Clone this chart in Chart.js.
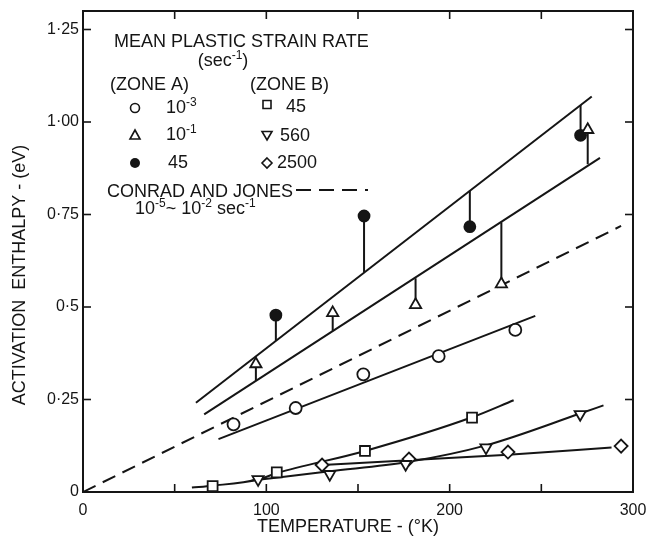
<!DOCTYPE html>
<html>
<head>
<meta charset="utf-8">
<script src="https://cdn.jsdelivr.net/npm/chart.js@4/dist/chart.umd.min.js"></script>
<style>
  html, body { margin: 0; padding: 0; background: #fff; }
  canvas { display: block; }
</style>
</head>
<body>
<canvas id="c" width="646" height="538"></canvas>
<script>
// ---------- axis ticks ----------
const xTickValues = [0, 50, 100, 150, 200, 250, 300];
const xTickLabels = ['0', '', '100', '', '200', '', '300'];
const yTickValues = [0, 0.25, 0.5, 0.75, 1.0, 1.25];
const yTickLabels = ['0', '0·25', '0·5', '0·75', '1·00', '1·25'];

// ---------- Zone A ----------
// 10^-3 sec^-1 (open circles)
const circleT = [82.1, 116, 152.9, 194, 235.8];
const circleE = [0.183, 0.227, 0.318, 0.367, 0.438];
const circleFitT = [73.9, 246.7];
const circleFitE = [0.143, 0.476];

// 10^-1 sec^-1 (open triangles) and where their ties meet the lower band line
const triT = [94.3, 136.2, 181.4, 228.2, 275.3];
const triE = [0.346, 0.484, 0.506, 0.562, 0.979];
const triTieE = [0.300, 0.436, 0.578, 0.729, 0.886];

// 45 sec^-1 (filled circles) and where their ties meet the upper band line
const dotT = [105.2, 153.3, 211, 271.4];
const dotE = [0.478, 0.746, 0.717, 0.964];
const dotTieE = [0.408, 0.593, 0.814, 1.046];

// band lines
const upperBandT = [61.6, 277.5];
const upperBandE = [0.241, 1.069];
const lowerBandT = [66.1, 282];
const lowerBandE = [0.21, 0.903];

// Conrad and Jones (dashed)
const conradT = [0, 293.5];
const conradE = [0, 0.719];

// ---------- Zone B ----------
// 45 sec^-1 (squares)
const sqT = [70.7, 105.7, 153.8, 212.2];
const sqE = [0.016, 0.053, 0.111, 0.201];
const sqFitT = [59.4, 70.7, 95.5, 105.7, 153.8, 212.2, 234.9];
const sqFitE = [0.012, 0.017, 0.034, 0.051, 0.111, 0.202, 0.248];

// 560 sec^-1 (inverted triangles)
const tdT = [95.5, 134.6, 176, 219.8, 271.2];
const tdE = [0.034, 0.048, 0.075, 0.120, 0.210];
const tdFitT = [92, 134.6, 177, 219.8, 271.2, 283.9];
const tdFitE = [0.031, 0.056, 0.081, 0.126, 0.212, 0.234];

// 2500 sec^-1 (diamonds)
const dmT = [130.4, 177.8, 231.8, 293.5];
const dmE = [0.073, 0.089, 0.108, 0.124];
const dmFitT = [130.4, 178, 232, 288.3];
const dmFitE = [0.073, 0.086, 0.101, 0.120];

// ---------- helpers ----------
const INK = '#151515';
const FONT = '"Liberation Sans", Arial, sans-serif';
function pts(xs, ys) { return xs.map((x, i) => ({ x: x, y: ys[i] })); }
function ties(xs, y1, y2) {
  const out = [];
  xs.forEach((x, i) => { out.push({ x: x, y: y1[i] }, { x: x, y: y2[i] }, { x: x, y: null }); });
  return out;
}
function lineDs(data, dash) {
  return { type: 'line', data: data, showLine: true, borderColor: INK, borderWidth: 2,
           borderDash: dash || [], pointRadius: 0, fill: false, tension: 0, spanGaps: false, order: 2 };
}
function curveDs(data) {
  const d = lineDs(data); d.tension = 0.35; d.cubicInterpolationMode = 'monotone'; return d;
}
function markDs(data, style, r, filled, rot) {
  return { type: 'line', data: data, showLine: false, pointStyle: style, pointRadius: r,
           pointRotation: rot || 0, pointBorderWidth: 1.8, pointBorderColor: INK,
           pointBackgroundColor: filled ? INK : '#ffffff', order: 0 };
}

// ---------- plugin: frame, inward ticks, titles, legend block ----------
const decor = {
  id: 'decor',
  afterDraw(chart) {
    const ctx = chart.ctx, a = chart.chartArea, sx = chart.scales.x, sy = chart.scales.y;
    ctx.save();
    ctx.strokeStyle = INK; ctx.lineWidth = 2; ctx.setLineDash([]);
    ctx.strokeRect(a.left, a.top, a.right - a.left, a.bottom - a.top);
    ctx.lineWidth = 1.6;
    const L = 8;
    xTickValues.forEach(v => {
      const px = sx.getPixelForValue(v);
      ctx.beginPath(); ctx.moveTo(px, a.bottom); ctx.lineTo(px, a.bottom - L); ctx.stroke();
      ctx.beginPath(); ctx.moveTo(px, a.top); ctx.lineTo(px, a.top + L); ctx.stroke();
    });
    yTickValues.forEach(v => {
      const py = sy.getPixelForValue(v);
      ctx.beginPath(); ctx.moveTo(a.left, py); ctx.lineTo(a.left + L, py); ctx.stroke();
      ctx.beginPath(); ctx.moveTo(a.right, py); ctx.lineTo(a.right - L, py); ctx.stroke();
    });

    ctx.fillStyle = INK;
    // axis titles
    ctx.font = '18px ' + FONT;
    ctx.textAlign = 'center'; ctx.textBaseline = 'alphabetic';
    ctx.fillText('TEMPERATURE - (°K)', 348, 532);
    ctx.save();
    ctx.translate(25, 275); ctx.rotate(-Math.PI / 2);
    ctx.fillText('ACTIVATION  ENTHALPY - (eV)', 0, 0);
    ctx.restore();

    // legend text
    const MAIN = '18px ' + FONT, SUP = '12px ' + FONT;
    function rich(x, y, parts, align) {
      let w = 0;
      parts.forEach(p => { ctx.font = p[1] ? SUP : MAIN; w += ctx.measureText(p[0]).width; });
      let cx = align === 'center' ? x - w / 2 : x;
      ctx.textAlign = 'left';
      parts.forEach(p => {
        ctx.font = p[1] ? SUP : MAIN;
        ctx.fillText(p[0], cx, p[1] ? y - 7 : y);
        cx += ctx.measureText(p[0]).width;
      });
    }
    rich(114, 47, [['MEAN PLASTIC STRAIN RATE', 0]]);
    rich(223, 66, [['(sec', 0], ['-1', 1], [')', 0]], 'center');
    rich(110, 90, [['(ZONE A)', 0]]);
    rich(250, 90, [['(ZONE B)', 0]]);
    rich(166, 113, [['10', 0], ['-3', 1]]);
    rich(166, 140, [['10', 0], ['-1', 1]]);
    rich(168, 168, [['45', 0]]);
    rich(286, 112, [['45', 0]]);
    rich(280, 141, [['560', 0]]);
    rich(277, 168, [['2500', 0]]);
    rich(107, 197, [['CONRAD AND JONES', 0]]);
    rich(135, 214, [['10', 0], ['-5', 1], ['~ 10', 0], ['-2', 1], [' sec', 0], ['-1', 1]]);

    ctx.lineWidth = 2;
    ctx.setLineDash([15, 8]);
    ctx.beginPath(); ctx.moveTo(296, 190); ctx.lineTo(368, 190); ctx.stroke();
    ctx.setLineDash([]);

    // legend symbols
    ctx.lineWidth = 1.6;
    ctx.fillStyle = '#fff';
    ctx.beginPath(); ctx.arc(135, 108, 4.5, 0, Math.PI * 2); ctx.fill(); ctx.stroke();
    ctx.beginPath(); ctx.moveTo(135, 130); ctx.lineTo(140, 139); ctx.lineTo(130, 139); ctx.closePath(); ctx.fill(); ctx.stroke();
    ctx.fillStyle = INK;
    ctx.beginPath(); ctx.arc(135, 163, 5, 0, Math.PI * 2); ctx.fill();
    ctx.fillStyle = '#fff';
    ctx.beginPath(); ctx.rect(263, 100.5, 8, 8); ctx.fill(); ctx.stroke();
    ctx.beginPath(); ctx.moveTo(267, 140); ctx.lineTo(272, 131.5); ctx.lineTo(262, 131.5); ctx.closePath(); ctx.fill(); ctx.stroke();
    ctx.beginPath(); ctx.moveTo(267, 158); ctx.lineTo(272, 163); ctx.lineTo(267, 168); ctx.lineTo(262, 163); ctx.closePath(); ctx.fill(); ctx.stroke();
    ctx.restore();
  }
};

const datasets = [
  markDs(pts(circleT, circleE), 'circle', 6, false),
  markDs(pts(triT, triE), 'triangle', 6.5, false),
  markDs(pts(dotT, dotE), 'circle', 5.5, true),
  markDs(pts(sqT, sqE), 'rect', 7, false),
  markDs(pts(tdT, tdE), 'triangle', 6.5, false, 180),
  markDs(pts(dmT, dmE), 'rectRot', 6.5, false),
  lineDs(pts(circleFitT, circleFitE)),
  lineDs(pts(upperBandT, upperBandE)),
  lineDs(pts(lowerBandT, lowerBandE)),
  lineDs(pts(conradT, conradE), [14, 8]),
  lineDs(ties(triT, triE, triTieE)),
  lineDs(ties(dotT, dotE, dotTieE)),
  curveDs(pts(sqFitT, sqFitE)),
  curveDs(pts(tdFitT, tdFitE)),
  curveDs(pts(dmFitT, dmFitE))
];

new Chart(document.getElementById('c'), {
  type: 'line',
  data: { datasets: datasets },
  options: {
    responsive: false,
    animation: false,
    devicePixelRatio: 1,
    layout: { padding: { top: 11, right: 13, left: 0, bottom: 0 } },
    plugins: { legend: { display: false }, tooltip: { enabled: false } },
    scales: {
      x: {
        type: 'linear', min: 0, max: 300, position: 'bottom',
        afterBuildTicks: s => { s.ticks = xTickValues.map(v => ({ value: v })); },
        afterFit: s => { s.height = 46; s.paddingLeft = 0; s.paddingRight = 0; },
        grid: { display: false, drawTicks: false },
        border: { display: false },
        ticks: {
          padding: 9, color: INK, maxRotation: 0, autoSkip: false,
          font: { family: FONT, size: 16 },
          callback: (v) => { const i = xTickValues.indexOf(v); return i >= 0 ? xTickLabels[i] : ''; }
        }
      },
      y: {
        type: 'linear', min: 0, max: 1.3,
        afterBuildTicks: s => { s.ticks = yTickValues.map(v => ({ value: v })); },
        afterFit: s => { s.width = 83; s.paddingTop = 0; s.paddingBottom = 0; },
        grid: { display: false, drawTicks: false },
        border: { display: false },
        ticks: {
          padding: 4, color: INK, autoSkip: false,
          font: { family: FONT, size: 16 },
          callback: (v) => { const i = yTickValues.indexOf(v); return i >= 0 ? yTickLabels[i] : ''; }
        }
      }
    }
  },
  plugins: [decor]
});
</script>
</body>
</html>
